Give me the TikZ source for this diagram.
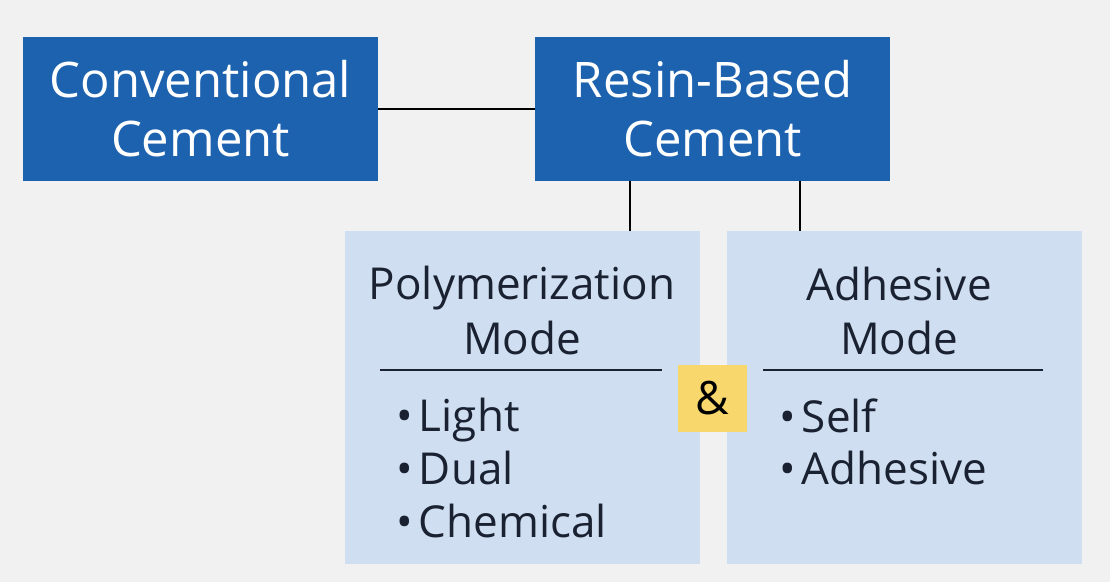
\documentclass[tikz,border=0pt]{standalone}
\usepackage{fontspec}
\setmainfont{Open Sans}
\usepackage{xcolor}
\definecolor{pagegray}{HTML}{F1F1F1}
\definecolor{cemblue}{HTML}{1D62AF}
\definecolor{modeblue}{HTML}{CFDFF1}
\definecolor{ampyellow}{HTML}{F8D86C}
\definecolor{inkdark}{HTML}{1A2232}

\begin{document}
\begin{tikzpicture}[x=0.5pt,y=-0.5pt,
  cembox/.style={fill=cemblue,inner sep=0,minimum width=177.5pt,minimum height=72pt},
  modebox/.style={fill=modeblue,inner sep=0,minimum width=177.5pt,minimum height=166.5pt},
  toptext/.style={text=white,font=\fontsize{24.5}{29}\selectfont,anchor=base},
  headtext/.style={text=inkdark,font=\fontsize{22}{26}\selectfont,anchor=base},
  itemtext/.style={text=inkdark,font=\fontsize{22}{26}\selectfont,anchor=base west,inner sep=0}]
\fill[pagegray] (0,0) rectangle (1110,582);
\useasboundingbox (0,0) rectangle (1110,582);
% cement boxes
\node[cembox] (conv) at (200.5,109) {};
\node[cembox] (resin) at (712.5,109) {};
\node[toptext] (conv1) at (200.5,98) {Conventional};
\node[toptext] (conv2) at (200.5,157) {Cement};
\node[toptext] (resin1) at (712.5,98) {Resin-Based};
\node[toptext] (resin2) at (712.5,157) {Cement};
% mode boxes
\node[modebox] (poly) at (522,398) {};
\node[modebox] (adh) at (904,398) {};
\node[headtext] (poly1) at (522,300) {Polymerization};
\node[headtext] (poly2) at (522,355) {Mode};
\node[headtext] (adh1) at (899,301) {Adhesive};
\node[headtext] (adh2) at (899,355) {Mode};
\draw[inkdark,line width=1pt] (380,370) -- (662,370);
\draw[inkdark,line width=1pt] (763,370) -- (1043,370);
\foreach \t [count=\i] in {Light,Dual,Chemical}
  \node[itemtext] (pm\i) at (396,432+53*\i-53) {\textbullet\hspace{3pt}\t};
\foreach \t [count=\i] in {Self,Adhesive}
  \node[itemtext] (am\i) at (779,433+52*\i-52) {\textbullet\hspace{3pt}\t};
% and sign
\node[fill=ampyellow,inner sep=0,minimum width=34.5pt,minimum height=33.5pt,
  font=\fontsize{23}{26}\selectfont,text=black] (amp) at (712.5,398.5) {\&};
% connectors
\coordinate (linkA) at (630,0);
\coordinate (linkB) at (800,0);
\draw[black,line width=1.3pt] (conv.east) -- (resin.west);
\draw[black,line width=1.3pt] (resin.south -| linkA) -- (poly.north -| linkA);
\draw[black,line width=1.3pt] (resin.south -| linkB) -- (adh.north -| linkB);
\end{tikzpicture}
\end{document}
